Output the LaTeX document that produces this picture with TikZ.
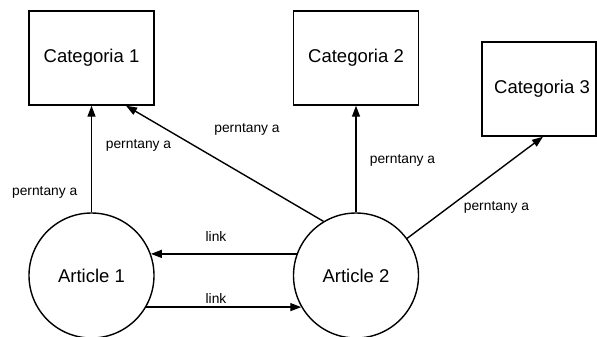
\documentclass[tikz,border=0pt]{standalone}
\usepackage{fontspec}
\setmainfont{Liberation Sans}
\usetikzlibrary{arrows.meta}
\begin{document}
\begin{tikzpicture}[x=1bp,y=-1bp,
  catbox/.style={draw, line width=1.4bp, minimum width=125bp, minimum height=94bp,
    inner sep=0pt, font=\fontsize{18.5bp}{22bp}\selectfont},
  artnode/.style={draw, circle, line width=1.4bp, minimum size=125bp, inner sep=0pt,
    font=\fontsize{18.5bp}{22bp}\selectfont},
  rel/.style={line width=1.4bp, -{Triangle[length=11bp,width=8bp]}},
  lbl/.style={anchor=base, inner sep=0pt, font=\fontsize{13.8bp}{16bp}\selectfont}]
\useasboundingbox (0,0) rectangle (597,336);
\clip (0,0) rectangle (597,336);

% categories
\node[catbox] (c1) at (91.5,58) {Categoria 1};
\node[catbox] (c2) at (356,58) {Categoria 2};
\node[catbox, minimum width=114bp] (c3) at (539,89) {\hspace*{6bp}Categoria 3};

% articles
\node[artnode] (a1) at (91.5,275.5) {Article 1};
\node[artnode] (a2) at (356,275.5) {Article 2};

% relations
\draw[rel] (a1.north) -- (c1.south);
\draw[rel] (a2.north) -- (c2.south);
\draw[rel] (a2.121) -- ([xshift=34.5bp]c1.south);
\draw[rel] (a2.36) -- ([xshift=4bp]c3.south);
\draw[rel] (a2.160) -- (a1.20);
\draw[rel] (a1.-30) -- (a2.210);

% labels
\node[lbl] (l1) at (44.7,195) {perntany a};
\node[lbl] (l2) at (138.5,148) {perntany a};
\node[lbl] (l3) at (247,132) {perntany a};
\node[lbl] (l4) at (402.5,163) {perntany a};
\node[lbl] (l5) at (496.5,210) {perntany a};
\node[lbl] (k1) at (216,241) {link};
\node[lbl] (k2) at (216,303) {link};
\end{tikzpicture}
\end{document}
